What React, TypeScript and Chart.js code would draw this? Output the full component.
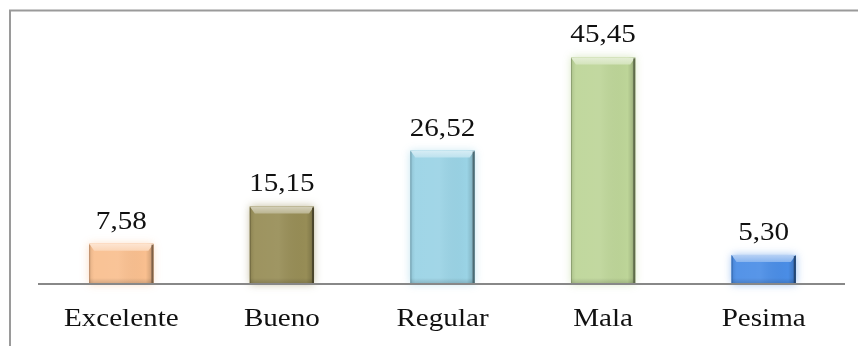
import React, { useEffect, useRef } from "react";
import { Chart, registerables } from "chart.js";

Chart.register(...registerables);

// Survey results (percent) per rating
const categories = ["Excelente", "Bueno", "Regular", "Mala", "Pesima"];
const percentages = [7.58, 15.15, 26.52, 45.45, 5.3];
const valueLabels = ["7,58", "15,15", "26,52", "45,45", "5,30"];
const barColors = ["#F9BF8F", "#978D56", "#9AD3E5", "#BDD598", "#4A8DE6"];

const AXIS_MIN = -0.6;
const AXIS_MAX = 50;

const FONT = "26px 'Liberation Serif', 'Times New Roman', serif";
const TEXT_STRETCH = 1.12;

function hexToRgb(hex: string): [number, number, number] {
  const h = hex.replace("#", "");
  return [parseInt(h.slice(0, 2), 16), parseInt(h.slice(2, 4), 16), parseInt(h.slice(4, 6), 16)];
}

function mix(hex: string, target: [number, number, number], t: number, alpha = 1): string {
  const [r, g, b] = hexToRgb(hex);
  const m = (a: number, c: number) => Math.round(a + (c - a) * t);
  return `rgba(${m(r, target[0])},${m(g, target[1])},${m(b, target[2])},${alpha})`;
}

const WHITE: [number, number, number] = [255, 255, 255];
const BLACK: [number, number, number] = [0, 0, 0];

function stretchedText(ctx: CanvasRenderingContext2D, text: string, x: number, y: number) {
  ctx.save();
  ctx.translate(x, y);
  ctx.scale(TEXT_STRETCH, 1);
  ctx.font = FONT;
  ctx.fillStyle = "#111";
  ctx.textAlign = "center";
  ctx.textBaseline = "alphabetic";
  ctx.fillText(text, 0, 0);
  ctx.restore();
}

// Soft halo behind each bar
const barGlow = {
  id: "barGlow",
  beforeDatasetsDraw(chart: any) {
    const ctx: CanvasRenderingContext2D = chart.ctx;
    const meta = chart.getDatasetMeta(0);
    meta.data.forEach((el: any, i: number) => {
      const { x, y, width, base } = el.getProps(["x", "y", "width", "base"], true);
      ctx.save();
      ctx.shadowColor = mix(barColors[i], WHITE, 0.3, 0.8);
      ctx.shadowBlur = 8;
      ctx.fillStyle = barColors[i];
      ctx.fillRect(x - width / 2, y, width, base - y);
      ctx.restore();
    });
  },
};

// Bevel shading on top of the plain bars
const barBevel = {
  id: "barBevel",
  afterDatasetsDraw(chart: any) {
    const ctx: CanvasRenderingContext2D = chart.ctx;
    const meta = chart.getDatasetMeta(0);
    meta.data.forEach((el: any, i: number) => {
      const { x, y, width, base } = el.getProps(["x", "y", "width", "base"], true);
      const x0 = x - width / 2;
      const x1 = x + width / 2;
      const y0 = y;
      const y1 = base;
      const c = barColors[i];
      ctx.save();

      // horizontal shading across the bar
      const hg = ctx.createLinearGradient(x0, 0, x1, 0);
      hg.addColorStop(0, "rgba(0,0,0,0.10)");
      hg.addColorStop(0.08, "rgba(255,255,255,0.06)");
      hg.addColorStop(0.45, "rgba(255,255,255,0.08)");
      hg.addColorStop(0.88, "rgba(0,0,0,0.0)");
      hg.addColorStop(0.95, "rgba(0,0,0,0.12)");
      hg.addColorStop(1, "rgba(0,0,0,0.35)");
      ctx.fillStyle = hg;
      ctx.fillRect(x0, y0, width, y1 - y0);

      // darker strip at the foot
      const bg = ctx.createLinearGradient(0, y1 - 6, 0, y1);
      bg.addColorStop(0, "rgba(0,0,0,0)");
      bg.addColorStop(1, "rgba(0,0,0,0.16)");
      ctx.fillStyle = bg;
      ctx.fillRect(x0, y1 - 6, width, 6);

      // top bevel
      const bh = Math.min(7, (y1 - y0) / 3);
      ctx.beginPath();
      ctx.moveTo(x0, y0);
      ctx.lineTo(x1, y0);
      ctx.lineTo(x1 - 5, y0 + bh);
      ctx.lineTo(x0 + 5, y0 + bh);
      ctx.closePath();
      const tg = ctx.createLinearGradient(0, y0, 0, y0 + bh);
      tg.addColorStop(0, mix(c, WHITE, 0.6));
      tg.addColorStop(1, mix(c, WHITE, 0.35));
      ctx.fillStyle = tg;
      ctx.fill();

      // side edges
      ctx.strokeStyle = mix(c, BLACK, 0.55, 0.8);
      ctx.lineWidth = 2;
      ctx.beginPath();
      ctx.moveTo(x1 - 1, y0 + 1);
      ctx.lineTo(x1 - 1, y1);
      ctx.stroke();
      ctx.strokeStyle = mix(c, BLACK, 0.45, 0.45);
      ctx.lineWidth = 1;
      ctx.beginPath();
      ctx.moveTo(x0 + 0.5, y0 + 1);
      ctx.lineTo(x0 + 0.5, y1);
      ctx.stroke();

      ctx.restore();
    });
  },
};

// Frame, baseline and all text
const decorations = {
  id: "decorations",
  afterDraw(chart: any) {
    const ctx: CanvasRenderingContext2D = chart.ctx;
    const area = chart.chartArea;
    ctx.save();

    // frame (open to the right and bottom)
    ctx.strokeStyle = "#9a9a9a";
    ctx.lineWidth = 2;
    ctx.beginPath();
    ctx.moveTo(10, chart.height);
    ctx.lineTo(10, 10.5);
    ctx.lineTo(chart.width, 10.5);
    ctx.stroke();

    // category axis line
    const yScale = chart.scales.y;
    const baseY = yScale.getPixelForValue(AXIS_MIN);
    ctx.strokeStyle = "#888888";
    ctx.lineWidth = 2;
    ctx.beginPath();
    ctx.moveTo(area.left - 3, baseY);
    ctx.lineTo(area.right + 1, baseY);
    ctx.stroke();
    ctx.restore();

    const xScale = chart.scales.x;
    const meta = chart.getDatasetMeta(0);
    meta.data.forEach((el: any, i: number) => {
      const { x, y } = el.getProps(["x", "y"], true);
      stretchedText(ctx, valueLabels[i], x, y - 15);
    });
    categories.forEach((label, i) => {
      stretchedText(ctx, label, xScale.getPixelForValue(i), 326);
    });
  },
};

export default function App() {
  const canvasRef = useRef<HTMLCanvasElement | null>(null);

  useEffect(() => {
    const canvas = canvasRef.current;
    if (!canvas) return;
    const chart = new Chart(canvas, {
      type: "bar",
      data: {
        labels: categories,
        datasets: [
          {
            data: percentages,
            base: AXIS_MIN,
            backgroundColor: barColors,
            borderWidth: 0,
            barPercentage: 0.4,
            categoryPercentage: 1,
          } as any,
        ],
      },
      options: {
        responsive: true,
        maintainAspectRatio: false,
        animation: false,
        layout: { padding: { left: 41, right: 14, top: 35, bottom: 62 } },
        scales: {
          x: { display: false },
          y: { display: false, min: AXIS_MIN, max: AXIS_MAX },
        },
        plugins: {
          legend: { display: false },
          tooltip: { enabled: false },
        },
      },
      plugins: [barGlow, barBevel, decorations],
    });
    return () => chart.destroy();
  }, []);

  return (
    <div
      style={{
        position: "fixed",
        left: 0,
        top: 0,
        width: 858,
        height: 346,
        background: "#ffffff",
      }}
    >
      <canvas ref={canvasRef} />
    </div>
  );
}
